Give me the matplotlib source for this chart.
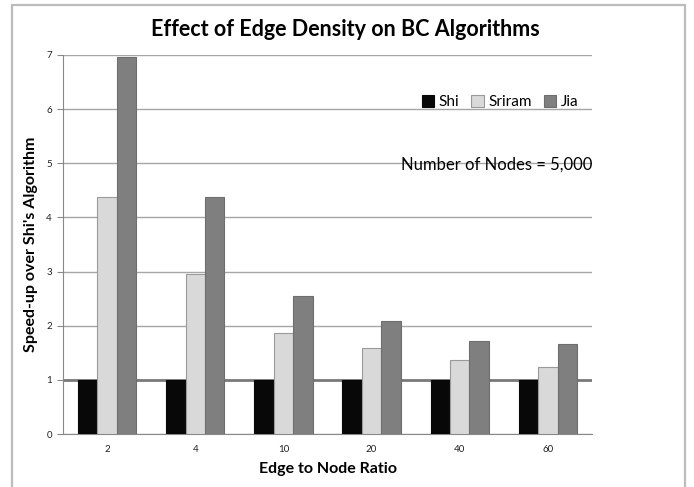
import matplotlib
matplotlib.use("Agg")
import matplotlib.pyplot as plt
import numpy as np
from matplotlib.patches import Rectangle

# edge-to-node ratios (categories) and speed-up per algorithm
ratios = ["2", "4", "10", "20", "40", "60"]
shi = [1.0, 1.0, 1.0, 1.0, 1.0, 1.0]
sriram = [4.37, 2.95, 1.86, 1.58, 1.37, 1.23]
jia = [6.97, 4.37, 2.55, 2.08, 1.71, 1.66]

SERIES = [
    ("Shi", shi, dict(color="#080808", edgecolor="#080808")),
    ("Sriram", sriram, dict(color="#d9d9d9", edgecolor="#9a9a9a")),
    ("Jia", jia, dict(color="#7f7f7f", edgecolor="#6e6e6e")),
]

plt.rcParams["font.family"] = ["Lato", "DejaVu Sans"]

W, H = 694, 487
fig = plt.figure(figsize=(W / 100, H / 100), dpi=100)
fig.patch.set_facecolor("white")

# outer chart frame
fig.patches.append(Rectangle((12 / W, -0.02), (685 - 12) / W, 1 - 5 / H + 0.02,
                             transform=fig.transFigure, fill=False,
                             edgecolor="#bcbcbc", lw=1.6, zorder=0))

ax = fig.add_axes([63 / W, 1 - 434 / H, (592 - 63) / W, (434 - 55) / H])

x = np.arange(len(ratios))
bw = 0.22
for i, (name, vals, style) in enumerate(SERIES):
    ax.bar(x + (i - 1) * bw, vals, width=bw, lw=0.8, label=name, zorder=3, **style)

ax.axhline(1, color="#7a7a7a", lw=2.0, zorder=2)
ax.set_ylim(0, 7)
ax.set_xlim(-0.5, len(ratios) - 0.5)
ax.set_yticks(range(0, 8))
ax.yaxis.grid(True, color="#a6a6a6", lw=1.0, zorder=1)
ax.set_axisbelow(True)
ax.set_xticks(x)
ax.set_xticklabels(ratios)
ax.tick_params(axis="x", length=0, labelsize=7, pad=8, colors="#222222")
ax.tick_params(axis="y", length=4, width=0.8, color="#888888", labelsize=7, pad=4,
               labelcolor="#222222")
for s in ("top", "right"):
    ax.spines[s].set_visible(False)
ax.spines["left"].set_color("#888888")
ax.spines["bottom"].set_color("#888888")

ax.set_xlabel("Edge to Node Ratio", fontsize=11.5, fontweight="bold", labelpad=6)
ax.set_ylabel("Speed-up over Shi's Algorithm", fontsize=11.5, fontweight="bold", labelpad=6)
fig.text(345 / W, 1 - 30 / H, "Effect of Edge Density on BC Algorithms",
         ha="center", va="center", fontsize=15.5, fontweight="bold")

leg = ax.legend(loc="upper right", bbox_to_anchor=(1.0, 0.93), ncol=3, frameon=False,
                fontsize=11, handlelength=0.8, handleheight=0.8, handletextpad=0.3,
                columnspacing=0.8)
ax.text(1.0, 0.71, "Number of Nodes = 5,000", transform=ax.transAxes,
        ha="right", va="center", fontsize=12)

fig.savefig("out.png", dpi=100)
